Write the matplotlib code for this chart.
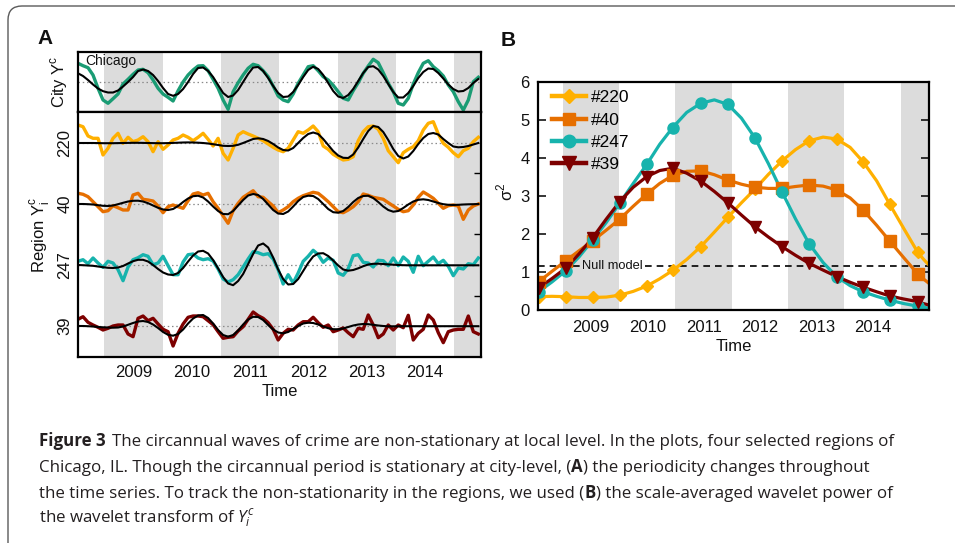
import numpy as np
import matplotlib
matplotlib.use("Agg")
import matplotlib.pyplot as plt
from matplotlib import font_manager as fm
from matplotlib.patches import FancyBboxPatch
from matplotlib.transforms import IdentityTransform
from matplotlib.lines import Line2D

# ---------------- Panel A data ----------------
A_START = 2008.55      # time of first sample (years)
A_STEP = 0.0858        # sampling interval (years)

city = [1.87,1.63,1.43,0.70,-0.63,-1.80,-2.13,-1.67,-1.20,-0.20,0.27,0.77,1.20,1.27,0.93,0.20,-0.63,-1.20,-1.53,-1.90,
        -0.87,0.00,0.70,1.20,1.60,1.63,1.13,0.27,-0.63,-1.80,-2.73,-0.97,-0.07,0.70,1.37,1.77,1.63,1.13,0.53,-0.40,
        -1.40,-1.80,-1.97,-1.20,-0.13,0.70,1.53,1.63,1.13,0.53,0.20,-0.33,-0.97,-1.63,-1.80,-0.87,-0.07,0.87,1.60,2.27,
        1.93,0.93,-0.13,-0.97,-2.13,-2.30,-1.63,-0.20,0.93,1.87,2.13,1.53,1.13,0.60,-0.30,-0.97,-1.97,-2.80,-1.80,0.03,0.47]
city_fit = [0.87,0.60,0.20,-0.25,-0.65,-0.92,-1.05,-1.05,-0.85,-0.45,0.00,0.50,1.10,1.25,1.10,0.70,0.10,-0.60,-1.20,-1.38,
            -1.20,-0.70,0.00,0.80,1.40,1.45,1.10,0.50,-0.30,-1.10,-1.50,-1.35,-0.80,0.00,0.80,1.45,1.50,1.10,0.40,-0.40,
            -1.10,-1.50,-1.45,-1.00,-0.30,0.50,1.20,1.53,1.30,0.70,-0.10,-0.90,-1.45,-1.60,-1.30,-0.70,0.10,0.90,1.50,1.58,
            1.25,0.60,-0.20,-1.00,-1.55,-1.55,-1.10,-0.40,0.40,1.00,1.35,1.30,0.90,0.35,-0.25,-0.70,-0.95,-0.90,-0.60,-0.10,0.30]

region_ids = ["220", "40", "247", "39"]

r220 = [1.80,1.63,0.70,0.47,0.47,-1.20,-0.53,0.47,0.97,-0.03,0.57,0.13,0.30,0.63,0.13,-0.87,0.13,-0.63,-0.20,0.30,
        0.47,0.80,0.57,0.23,0.57,0.97,0.37,-0.30,0.47,-1.03,-1.70,-0.53,0.80,1.13,0.90,0.70,0.47,0.23,-0.10,-0.43,
        -0.70,-0.87,-0.53,0.30,1.13,0.97,1.30,1.70,1.13,-0.30,-0.63,-1.13,-1.43,-1.70,-1.63,-1.37,0.23,1.13,1.63,1.70,
        1.37,0.47,-0.77,-1.37,-1.97,-0.97,-0.63,-0.37,0.23,1.30,1.97,2.13,0.90,-0.03,-0.43,-0.97,-1.37,-0.77,-0.53,0.13,0.57]
r220_fit = [0.00,0.00,0.00,0.00,-0.01,-0.02,-0.02,-0.02,-0.01,0.00,0.01,0.02,0.02,0.01,0.00,-0.01,-0.02,-0.02,-0.01,0.01,
            0.03,0.05,0.06,0.05,0.03,0.00,-0.05,-0.12,-0.20,-0.28,-0.30,-0.28,-0.18,0.00,0.20,0.40,0.47,0.40,0.20,-0.10,
            -0.45,-0.70,-0.75,-0.50,0.00,0.50,0.90,1.05,0.90,0.40,-0.20,-0.80,-1.25,-1.48,-1.50,-1.15,-0.45,0.40,1.20,1.70,
            1.60,1.10,0.30,-0.60,-1.30,-1.55,-1.35,-0.80,-0.10,0.50,0.90,1.00,0.85,0.40,0.00,-0.35,-0.43,-0.40,-0.30,-0.15,0.00]

r40 = [1.07,0.97,0.73,0.23,-0.27,-0.77,-0.67,-0.17,-0.37,-0.60,-0.60,0.90,1.07,0.47,0.40,0.30,-0.20,-0.87,-0.27,-0.10,
       -0.27,-0.43,0.33,1.00,1.13,0.90,1.07,0.23,-0.43,-1.20,-1.93,-0.67,0.07,0.67,1.00,1.33,0.73,0.67,0.23,-0.20,
       -0.87,-0.60,-0.27,0.23,0.57,0.83,1.00,1.17,1.07,0.67,0.23,-0.27,-0.77,-0.87,-0.60,-0.27,0.23,1.00,0.87,0.67,
       0.57,0.47,0.13,-0.20,-0.53,-0.77,-0.67,-0.10,0.67,1.20,0.90,0.57,0.07,-0.43,-0.17,-0.10,-0.20,-1.53,-0.60,-0.20,0.00]
r40_fit = [0.00,0.00,-0.02,-0.05,-0.12,-0.18,-0.20,-0.15,-0.02,0.12,0.25,0.32,0.33,0.25,0.08,-0.15,-0.38,-0.55,-0.60,-0.50,
           -0.20,0.20,0.55,0.78,0.83,0.65,0.25,-0.25,-0.70,-1.00,-1.02,-0.70,-0.15,0.40,0.85,1.00,0.90,0.50,-0.05,-0.60,
           -0.95,-1.00,-0.75,-0.25,0.30,0.70,0.83,0.80,0.50,0.00,-0.50,-0.82,-0.87,-0.70,-0.30,0.20,0.60,0.80,0.83,0.60,
           0.20,-0.25,-0.60,-0.77,-0.70,-0.40,-0.05,0.25,0.42,0.47,0.40,0.25,0.10,-0.02,-0.08,-0.10,-0.08,-0.05,-0.03,-0.02,0.00]

r247 = [0.37,0.53,0.13,0.70,0.20,-0.23,0.37,0.20,-0.47,-1.57,-0.20,0.53,0.73,1.03,0.87,0.03,0.20,0.87,-0.07,-0.97,
        -0.97,0.30,1.03,1.10,0.70,0.53,0.63,0.40,-0.40,-1.40,-1.70,-1.47,-0.97,-0.20,0.60,1.33,1.23,1.03,1.13,0.60,
        -0.47,-1.90,-0.97,-1.80,-0.80,0.37,0.87,1.47,1.03,0.27,0.70,0.47,-0.80,-1.03,-0.37,0.93,1.03,0.27,0.20,-0.20,
        0.47,0.43,-0.07,0.70,-0.07,0.80,0.37,-0.73,0.87,-0.07,0.37,0.80,0.13,0.47,-0.13,-1.07,-0.30,-0.40,0.13,0.03,0.70]
r247_fit = [0.00,-0.02,-0.05,-0.08,-0.15,-0.22,-0.28,-0.30,-0.25,-0.10,0.15,0.38,0.52,0.52,0.35,0.00,-0.40,-0.75,-0.95,-1.00,
            -0.80,-0.30,0.35,0.95,1.35,1.42,1.15,0.50,-0.35,-1.20,-1.85,-2.02,-1.60,-0.90,0.10,1.10,1.95,2.15,1.75,0.75,
            -0.45,-1.40,-1.95,-1.90,-1.40,-0.60,0.20,0.85,1.15,1.18,0.90,0.45,-0.05,-0.45,-0.57,-0.50,-0.33,-0.12,0.05,0.12,
            0.13,0.10,0.06,0.03,0.00,-0.02,-0.03,-0.03,-0.03,-0.03,-0.03,-0.03,-0.03,-0.03,-0.03,-0.03,-0.03,-0.03,-0.03,-0.03,-0.03]

r39 = [0.67,0.93,0.37,0.10,-0.13,-0.40,-0.23,0.00,0.10,0.10,-0.80,-1.07,0.77,1.00,0.53,0.77,0.20,-0.33,-0.57,-2.00,
       -0.73,0.20,0.87,1.00,1.00,0.93,0.53,0.13,-0.57,-1.23,-1.13,-1.07,-0.50,-0.07,0.67,1.40,1.03,0.77,0.33,-0.33,
       -1.40,-0.73,-0.33,-0.40,0.10,0.43,0.43,0.87,0.33,-0.13,0.10,-0.57,-0.40,-0.20,-0.67,-1.07,-0.23,-0.33,1.10,0.10,
       -1.17,-0.80,0.10,-0.40,0.10,-0.17,1.07,-1.40,-0.73,-0.33,1.10,0.60,-0.67,-1.67,-0.57,-0.40,-0.33,-0.33,1.00,-0.57,-0.80]
r39_fit = [0.00,0.00,-0.02,-0.05,-0.10,-0.13,-0.15,-0.17,-0.15,-0.05,0.12,0.30,0.45,0.50,0.40,0.15,-0.20,-0.60,-0.88,-0.97,
           -0.80,-0.35,0.25,0.75,1.05,1.10,0.80,0.25,-0.40,-0.90,-1.07,-0.90,-0.45,0.15,0.65,0.92,0.90,0.60,0.10,-0.35,
           -0.65,-0.73,-0.60,-0.30,0.00,0.25,0.33,0.30,0.15,-0.05,-0.22,-0.32,-0.33,-0.25,-0.10,0.05,0.15,0.20,0.18,0.12,
           0.05,0.00,-0.03,-0.03,-0.03,-0.02,-0.02,-0.02,-0.02,-0.02,-0.02,-0.02,-0.02,-0.02,-0.02,-0.02,-0.02,-0.02,-0.02,-0.02,-0.02]

# ---------------- Panel B data ----------------
# marker samples
b_time = [2008.57, 2009.05, 2009.53, 2010.01, 2010.49, 2010.95, 2011.45, 2011.93,
          2012.41, 2012.89, 2013.37, 2013.86, 2014.33, 2014.80, 2015.30]
p220 = [0.35, 0.35, 0.33, 0.39, 0.63, 1.04, 1.67, 2.44, 3.18, 3.92, 4.45, 4.50, 3.90, 2.79, 1.52]
p40  = [0.74, 1.29, 1.82, 2.39, 3.05, 3.54, 3.66, 3.42, 3.23, 3.20, 3.29, 3.16, 2.63, 1.82, 0.95]
p247 = [0.48, 1.03, 1.84, 2.81, 3.83, 4.80, 5.44, 5.41, 4.53, 3.11, 1.75, 0.88, 0.48, 0.26, 0.10]
p39  = [0.58, 1.10, 1.90, 2.85, 3.51, 3.73, 3.39, 2.82, 2.19, 1.67, 1.23, 0.88, 0.60, 0.37, 0.22]
# smooth curves read between the markers
c_time = [2008.57, 2008.81, 2009.05, 2009.29, 2009.53, 2009.77, 2010.01, 2010.25, 2010.49, 2010.72,
          2010.95, 2011.20, 2011.45, 2011.69, 2011.93, 2012.17, 2012.41, 2012.65, 2012.89, 2013.13,
          2013.37, 2013.62, 2013.86, 2014.10, 2014.33, 2014.57, 2014.80, 2015.05, 2015.30, 2015.40, 2015.50]
c220 = [0.35, 0.36, 0.35, 0.33, 0.33, 0.34, 0.39, 0.49, 0.63, 0.82, 1.04, 1.33, 1.67, 2.05, 2.44, 2.82,
        3.18, 3.57, 3.92, 4.22, 4.45, 4.55, 4.50, 4.28, 3.90, 3.40, 2.79, 2.15, 1.52, 1.34, 1.18]
c40  = [0.74, 1.02, 1.29, 1.56, 1.82, 2.10, 2.39, 2.73, 3.05, 3.33, 3.54, 3.65, 3.66, 3.56, 3.42, 3.31,
        3.23, 3.20, 3.20, 3.25, 3.29, 3.26, 3.16, 2.95, 2.63, 2.23, 1.82, 1.38, 0.95, 0.82, 0.70]
c247 = [0.48, 0.74, 1.03, 1.40, 1.84, 2.30, 2.81, 3.33, 3.83, 4.36, 4.80, 5.20, 5.44, 5.53, 5.41, 5.05,
        4.53, 3.85, 3.11, 2.40, 1.75, 1.25, 0.88, 0.64, 0.48, 0.36, 0.26, 0.17, 0.10, 0.07, 0.05]
c39  = [0.58, 0.83, 1.10, 1.48, 1.90, 2.39, 2.85, 3.23, 3.51, 3.67, 3.73, 3.60, 3.39, 3.12, 2.82, 2.50,
        2.19, 1.92, 1.67, 1.44, 1.23, 1.05, 0.88, 0.73, 0.60, 0.48, 0.37, 0.29, 0.22, 0.17, 0.13]
legend_labels = ["#220", "#40", "#247", "#39"]
null_level = 1.17

year_ticks = [2009.5, 2010.5, 2011.5, 2012.5, 2013.5, 2014.5]
year_labels = ["2009", "2010", "2011", "2012", "2013", "2014"]
bands = [(2009, 2010), (2011, 2012), (2013, 2014), (2015, 2016)]

# ---------------- styling ----------------
names = {f.name for f in fm.fontManager.ttflist}
def pick(cands, default="DejaVu Sans"):
    for n in cands:
        if n in names:
            return n
    return default

FONT = pick(["Liberation Sans", "Arial"])

plt.rcParams.update({
    "font.family": [FONT, "DejaVu Sans"],
    "mathtext.fontset": "custom",
    "mathtext.rm": FONT,
    "mathtext.bf": FONT + ":bold",
})

C_CITY = "#1a9c74"
C220 = "#ffb000"
C40 = "#e66f00"
C247 = "#17b3ad"
C39 = "#7d0000"
BAND = "#dcdcdc"
TXT = "#111111"

W, H = 955, 543
fig = plt.figure(figsize=(W / 100, H / 100), dpi=100)

def tA(s):
    return A_START + A_STEP * np.arange(len(s))

XLIM = (2008.55, 2015.46)

# ---------------- Panel A ----------------
axc = fig.add_axes([78 / W, 1 - 112 / H, 403 / W, 60 / H])
axr = fig.add_axes([78 / W, 1 - 357 / H, 403 / W, 245 / H])
for ax in (axc, axr):
    for a, b in bands:
        ax.axvspan(a, b, color=BAND, lw=0, zorder=0)
    ax.set_xlim(*XLIM)
    for s in ax.spines.values():
        s.set_linewidth(1.6)
        s.set_zorder(5)

axc.axhline(0, color="#8a8a8a", ls=(0, (1.2, 2.2)), lw=0.9, zorder=1)
axc.plot(tA(city), city, color=C_CITY, lw=2.4, zorder=2, solid_joinstyle="round")
axc.plot(tA(city_fit), city_fit, color="k", lw=1.5, zorder=3)
axc.set_ylim(-3, 3)
axc.set_xticks([])
axc.set_yticks([])
axc.text(0.017, 0.85, "Chicago", transform=axc.transAxes, fontsize=10, va="center", ha="left", color=TXT)
axc.set_ylabel(r"City $\mathrm{Y}^\mathrm{c}$", fontsize=12, color=TXT)
axc.yaxis.set_label_coords(-0.02, 0.5)

offsets = [21.4, 15.3, 9.2, 3.1]
reg = [(r220, r220_fit, C220), (r40, r40_fit, C40), (r247, r247_fit, C247), (r39, r39_fit, C39)]
for (s, f, c), off in zip(reg, offsets):
    axr.axhline(off, color="#8a8a8a", ls=(0, (1.2, 2.2)), lw=0.9, zorder=1)
    axr.plot(tA(s), np.asarray(s) + off, color=c, lw=2.4, zorder=2, solid_joinstyle="round")
    axr.plot(tA(f), np.asarray(f) + off, color="k", lw=1.5, zorder=3)
axr.set_ylim(0, 24.5)
axr.set_yticks(offsets)
axr.set_yticklabels(region_ids, rotation=90, va="center")
axr.tick_params(axis="y", which="major", length=0, pad=4, labelsize=12, labelcolor=TXT)
axr.set_yticks([6.125, 12.25, 18.375], minor=True)
axr.tick_params(axis="y", which="minor", direction="in", length=5, width=1, left=False, right=True)
axr.set_xticks(year_ticks)
axr.set_xticklabels(year_labels)
axr.tick_params(axis="x", length=0, pad=6, labelsize=12, labelcolor=TXT)
axr.set_xlabel("Time", fontsize=12, labelpad=3, color=TXT)
axr.set_ylabel(r"Region $\mathrm{Y}_\mathrm{i}^\mathrm{c}$", fontsize=12, color=TXT)
axr.yaxis.set_label_coords(-0.065, 0.5)

# ---------------- Panel B ----------------
axb = fig.add_axes([538 / W, 1 - 310 / H, 391 / W, 228 / H])
for a, b in bands:
    axb.axvspan(a, b, color=BAND, lw=0, zorder=0)
axb.set_xlim(2008.56, 2015.50)
axb.set_ylim(0, 6)
for s in axb.spines.values():
    s.set_linewidth(1.6)
    s.set_zorder(6)

axb.axhline(null_level, xmin=0, xmax=0.107, color="k", ls=(0, (4, 3)), lw=1.2, zorder=1)
axb.axhline(null_level, xmin=0.274, xmax=1, color="k", ls=(0, (4, 3)), lw=1.2, zorder=1)
axb.text(0.19, null_level, "Null model", transform=axb.get_yaxis_transform(), fontsize=9.3,
         ha="center", va="center", color=TXT, zorder=1)

series_b = [(p220, c220, C220, "D", 6.6), (p40, c40, C40, "s", 8.0),
            (p247, c247, C247, "o", 8.0), (p39, c39, C39, "v", 8.5)]
handles = []
for (pts, crv, c, m, ms), lab in zip(series_b, legend_labels):
    axb.plot(c_time, crv, color=c, lw=2.3, zorder=3, solid_joinstyle="round")
    axb.plot(b_time, pts, ls="none", marker=m, ms=ms, color=c, mec=c, zorder=4)
    handles.append(Line2D([], [], color=c, lw=3.2, marker=m, ms=ms + 1, mec=c))
axb.legend(handles, legend_labels, loc="upper left", bbox_to_anchor=(0.035, 0.965), borderaxespad=0,
           borderpad=0, frameon=False, handlelength=2.0, handletextpad=0.25, labelspacing=0.42,
           fontsize=12.5, numpoints=1)

axb.set_yticks([0, 1, 2, 3, 4, 5, 6])
axb.tick_params(axis="y", direction="in", length=6, width=1.1, left=True, right=True, pad=6,
                labelsize=12, labelcolor=TXT)
axb.set_xticks(year_ticks)
axb.set_xticklabels(year_labels)
axb.tick_params(axis="x", length=0, pad=7, labelsize=12, labelcolor=TXT)
axb.set_xlabel("Time", fontsize=12, labelpad=3, color=TXT)
axb.set_ylabel(r"σ$^\mathrm{2}$", fontsize=12, color=TXT)
axb.yaxis.set_label_coords(-0.058, 0.52)

# ---------------- panel letters ----------------
fig.text(45.5 / W, 1 - 38 / H, "A", fontsize=15, fontweight="bold", ha="center", va="center", color=TXT)
fig.text(508.5 / W, 1 - 40 / H, "B", fontsize=15, fontweight="bold", ha="center", va="center", color=TXT)

# ---------------- frame ----------------
frame = FancyBboxPatch((8, -30), 1000, 537 + 30, boxstyle="round,pad=0,rounding_size=14",
                       transform=IdentityTransform(), fill=False, ec="#5a5a5a", lw=1.0)
fig.patches.append(frame)

# ---------------- caption ----------------
cap_lines = [
    [("Figure 3", True), ("The circannual waves of crime are non-stationary at local level. In the plots, four selected regions of", False)],
    [("Chicago, IL. Though the circannual period is stationary at city-level, (", False), ("A", True), (") the periodicity changes throughout", False)],
    [("the time series. To track the non-stationarity in the regions, we used (", False), ("B", True), (") the scale-averaged wavelet power of", False)],
    [(r"the wavelet transform of $Y_i^c$", False)],
]
cap_base = [446, 472, 497.5, 523]
cap_target = [902.0, 758.0, 864.0]   # line extents in the reference, px

fig.canvas.draw()
renderer = fig.canvas.get_renderer()

def draw_caption(size, fam):
    plt.rcParams["mathtext.it"] = fam + ":italic"
    arts = []
    widths = []
    for li, (line, yb) in enumerate(zip(cap_lines, cap_base)):
        x = 39.0
        for i, (s, b) in enumerate(line):
            if i == 1 and li == 0:
                x += 7.0 * size / 13.0
            t = fig.text(x / W, 1 - yb / H, s, fontsize=size, fontweight="bold" if b else "normal",
                         family=[fam, "DejaVu Sans"], color="#231f20", ha="left", va="baseline")
            ext = t.get_window_extent(renderer)
            x = ext.x1
            arts.append(t)
        widths.append(x - 39.0)
    return arts, widths

best = None
for fam in ["Liberation Sans", "Roboto", "Open Sans", "Lato", "Noto Sans", "Inter"]:
    if fam not in names:
        continue
    arts, ws = draw_caption(13.0, fam)
    for a in arts:
        a.remove()
    k = sum(cap_target) / sum(ws[:3])
    err = sum((k * w - t) ** 2 for w, t in zip(ws[:3], cap_target))
    if best is None or err < best[0]:
        best = (err, fam, 13.0 * k)

if best is None:
    best = (0, FONT, 13.0)
draw_caption(best[2], best[1])

fig.savefig("out.png", dpi=100)
